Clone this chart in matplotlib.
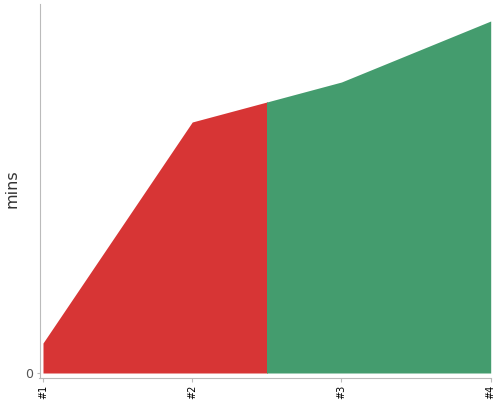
import matplotlib
matplotlib.use("Agg")
import matplotlib.pyplot as plt
from matplotlib.patches import Rectangle

categories = ["#1", "#2", "#3", "#4"]
values = [3.0, 25.1, 29.1, 35.2]
zone_split = 1.5
y_max = 36.9
red = "#d73535"
green = "#449c6e"

fig = plt.figure(figsize=(5, 4), dpi=100)
ax = fig.add_axes([43/500, 27/400, (490.7-43)/500, (373-4)/400])
x = list(range(len(categories)))
ax.set_xlim(0, len(categories) - 1)
ax.set_ylim(0, y_max)

p1 = ax.fill_between(x, 0, values, color=red, linewidth=0)
p2 = ax.fill_between(x, 0, values, color=green, linewidth=0)
r1 = Rectangle((0, 0), zone_split, y_max, transform=ax.transData)
r2 = Rectangle((zone_split, 0), len(categories), y_max, transform=ax.transData)
p1.set_clip_path(r1)
p2.set_clip_path(r2)

for s in ["top", "right"]:
    ax.spines[s].set_visible(False)
ax.spines["left"].set_position(("outward", 2.5))
ax.spines["bottom"].set_position(("outward", 3.6))
for s in ["left", "bottom"]:
    ax.spines[s].set_color("#bbbbbb")
    ax.spines[s].set_linewidth(0.8)
ax.spines["left"].set_bounds(-0.5, y_max)
ax.spines["bottom"].set_bounds(-0.024, 3.0)

ax.set_xticks(x)
ax.set_xticklabels(categories, rotation=90, fontsize=7, color="#000000")
ax.set_yticks([0])
ax.set_yticklabels(["0"], fontsize=9, color="#555555")
ax.tick_params(axis="x", length=3, width=0.8, color="#bbbbbb", pad=2)
ax.tick_params(axis="y", length=2.5, width=0.8, color="#bbbbbb", pad=2)
ax.set_ylabel("mins", fontsize=11.5, color="#333333")
ax.yaxis.set_label_coords(-0.052, 0.5)

fig.savefig("out.png", dpi=100)
